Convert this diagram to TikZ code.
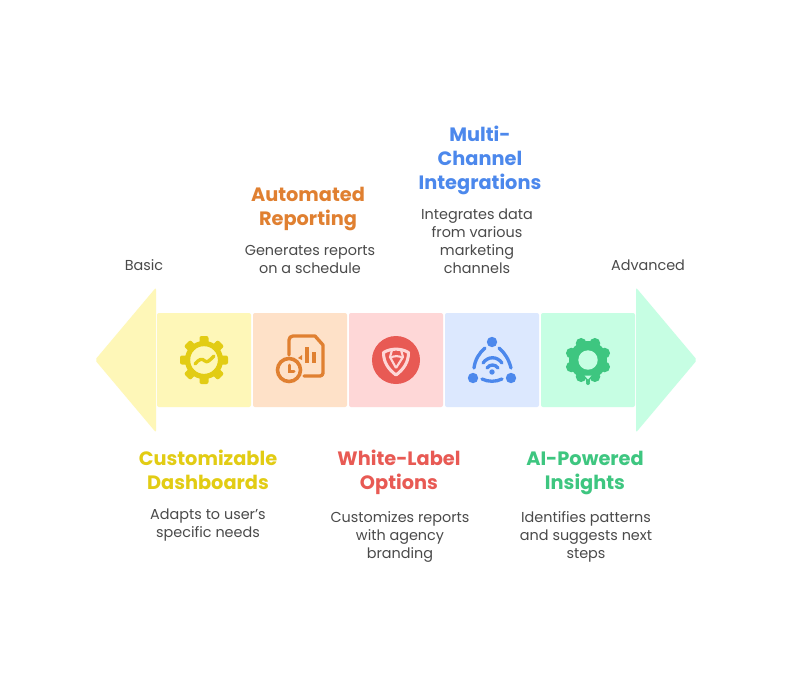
\documentclass[tikz,border=0pt]{standalone}
\usepackage{fontspec}
\usetikzlibrary{calc}
\setmainfont{Poppins}
\definecolor{ybg}{HTML}{FEF7B8}\definecolor{obg}{HTML}{FEE1C8}\definecolor{rbg}{HTML}{FED7D7}\definecolor{bbg}{HTML}{DCE8FE}\definecolor{gbg}{HTML}{C6FEE3}
\definecolor{yfg}{HTML}{E2CC14}\definecolor{ofg}{HTML}{E08031}\definecolor{rfg}{HTML}{E85A54}\definecolor{bfg}{HTML}{4C88EC}\definecolor{gfg}{HTML}{3EC680}
\definecolor{txt}{HTML}{4A4A4A}
\tikzset{
 panel/.style={rounded corners=1.5pt,draw=none},
 arrowhead/.style={rounded corners=1.5pt,draw=none},
 ttl/.style={align=center,inner sep=0pt,font=\fontsize{14.5}{18}\selectfont\bfseries},
 dsc/.style={align=center,inner sep=0pt,text=txt,font=\fontsize{10.8}{13.5}\selectfont},
 ln/.style={line width=2.5pt,line cap=round,line join=round}
}
\begin{document}
\begin{tikzpicture}[x=0.75pt,y=-0.75pt]
\useasboundingbox (0,0) rectangle (792,672);
\fill[white] (0,0) rectangle (792,672);
% arrows
\fill[ybg,arrowhead] (156,287.5) -- (95,360) -- (156,432.5) -- cycle;
\fill[gbg,arrowhead] (636,287.5) -- (697,360) -- (636,432.5) -- cycle;
% panels
\fill[ybg,panel] (157,313) rectangle (251,407);
\fill[obg,panel] (253,313) rectangle (347,407);
\fill[rbg,panel] (349,313) rectangle (443,407);
\fill[bbg,panel] (445,313) rectangle (539,407);
\fill[gbg,panel] (541,313) rectangle (635,407);
% gear icon
\foreach \a in {0,45,...,315}
  \fill[yfg,rotate around={\a:(204,360)},rounded corners=1.5pt] (199.5,336) rectangle (208.5,346);
\draw[yfg,line width=3.9pt] (204,360) circle (16.5);
\draw[yfg,ln] (195,364) .. controls (199,359) and (202,358) .. (205,361) .. controls (207,363) and (209,361) .. (214,356);
% report icon
\draw[ofg,ln] (289,355) -- (289,340) arc (180:270:4) -- (315,336) -- (323,345) -- (323,373) arc (0:90:3) -- (304,376);
\draw[ofg,line width=3pt] (307,347) -- (307,363);
\draw[ofg,line width=3pt] (314,352) -- (314,363);
\fill[ofg] (298,358) -- (302,355) -- (302,360) -- cycle;
\draw[ofg,line width=2.7pt] (289,370) circle (11.5);
\draw[ofg,line width=2.25pt,line cap=round] (289,365) -- (289,371) -- (294,371);
% shield icon
\fill[rfg] (396,360) circle (24);
\draw[rbg,line width=2.3pt,line join=round] (383.5,352.5) .. controls (391,348) and (401,348) .. (408.5,352.5) .. controls (408.5,362) and (404,369) .. (396,375) .. controls (388,369) and (383.5,362) .. cycle;
\draw[rbg,line width=1.6pt] (392,350) -- (390,357) -- (396,368);
\draw[rbg,line width=1.6pt] (401,350) -- (403,357) -- (396,368);
\draw[rbg,line width=1.6pt] (390,358) .. controls (394,355.5) and (399,355.5) .. (403,358);
% network icon
\fill[bfg] (492,342) circle (5.2);
\fill[bfg] (473,378) circle (5.2);
\fill[bfg] (511,378) circle (5.2);
\fill[bfg] (492,372) circle (2.7);
\draw[bfg,ln] (485,348) .. controls (479,353) and (475,360) .. (474,368);
\draw[bfg,ln] (499,348) .. controls (505,353) and (509,360) .. (511,368);
\draw[bfg,ln] (482,379) .. controls (488,382) and (496,382) .. (502,379);
\draw[bfg,ln] (483,363) .. controls (488,356) and (497,356) .. (502,363);
\draw[bfg,ln] (487,368) .. controls (490,364) and (495,364) .. (498,368);
% green gear icon
\fill[gfg] (588,360) circle (19);
\foreach \a in {22.5,67.5,...,337.5}
  \fill[gfg] ($(588,360)+(\a:18)$) circle (5.4);
\fill[gbg] (588,360) circle (9.7);
\fill[gfg] (586,378) rectangle (590,382);
\fill[gfg] (588,383) circle (2);
\fill[gbg] (584.5,375.5) -- (591.5,375.5) -- (588,379.5) -- cycle;
% texts
\node[dsc] (basic) at (144,265.5) {Basic};
\node[dsc] (advanced) at (648,265.5) {Advanced};
\node[ttl,text=yfg] (t1) at (208,470) {Customizable\\Dashboards};
\node[dsc] (d1) at (208,525.5) {Adapts to user's\\specific needs};
\node[ttl,text=ofg] (t2) at (308,209) {Automated\\Reporting};
\node[dsc] (d2) at (310,259) {Generates reports\\on a schedule};
\node[ttl,text=rfg] (t3) at (399,472) {White-Label\\Options};
\node[dsc] (d3) at (400,537) {Customizes reports\\with agency\\branding};
\node[ttl,text=bfg] (t4) at (480,160) {Multi-\\Channel\\Integrations};
\node[dsc] (d4) at (477,241) {Integrates data\\from various\\marketing\\channels};
\node[ttl,text=gfg] (t5) at (585,473) {AI-Powered\\Insights};
\node[dsc] (d5) at (586,537) {Identifies patterns\\and suggests next\\steps};
\end{tikzpicture}
\end{document}
